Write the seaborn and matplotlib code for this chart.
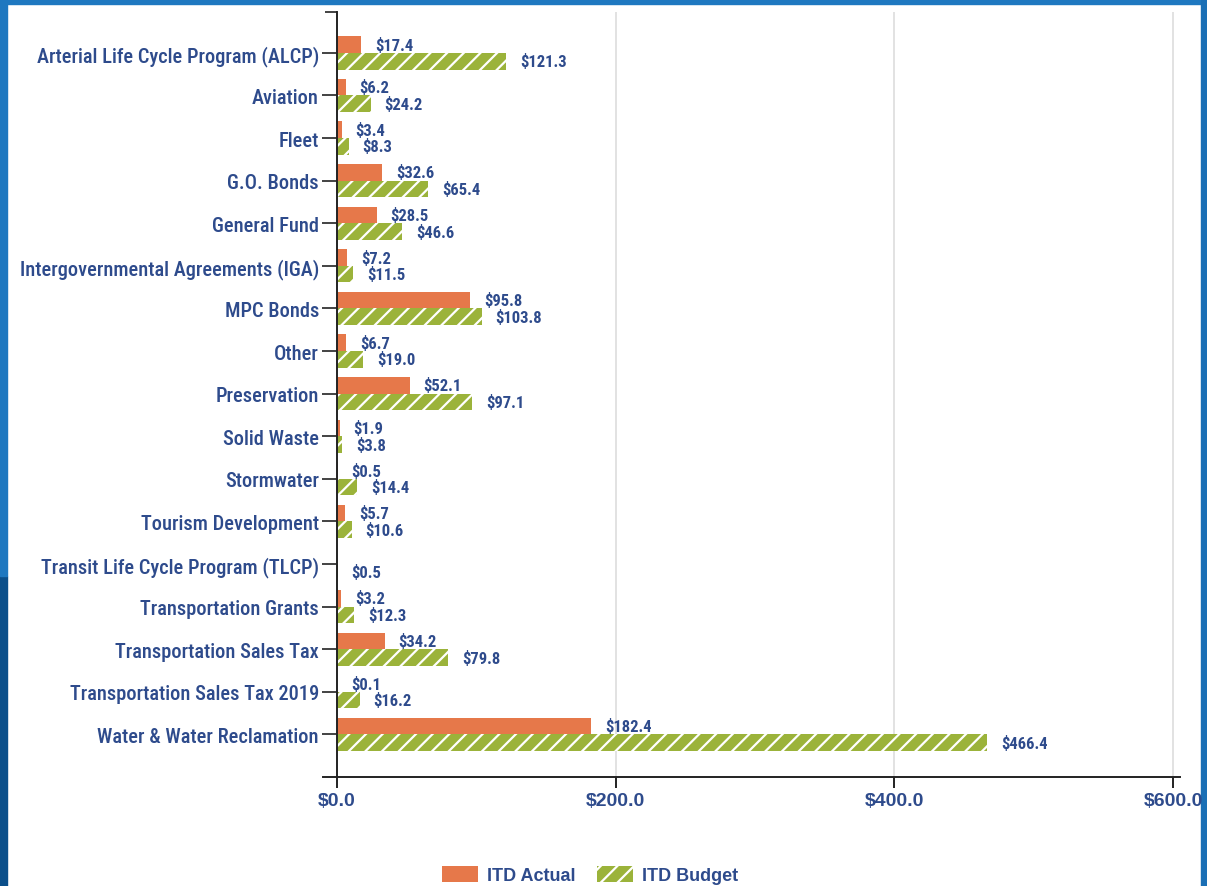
import matplotlib
matplotlib.use("Agg")
import matplotlib.pyplot as plt
from matplotlib.patches import Patch, Rectangle
import seaborn as sns
import pandas as pd

categories = [
    "Arterial Life Cycle Program (ALCP)", "Aviation", "Fleet", "G.O. Bonds",
    "General Fund", "Intergovernmental Agreements (IGA)", "MPC Bonds", "Other",
    "Preservation", "Solid Waste", "Stormwater", "Tourism Development",
    "Transit Life Cycle Program (TLCP)", "Transportation Grants",
    "Transportation Sales Tax", "Transportation Sales Tax 2019",
    "Water & Water Reclamation",
]
itd_actual = [17.4, 6.2, 3.4, 32.6, 28.5, 7.2, 95.8, 6.7, 52.1, 1.9, 0.5, 5.7, 0.0, 3.2, 34.2, 0.1, 182.4]
itd_budget = [121.3, 24.2, 8.3, 65.4, 46.6, 11.5, 103.8, 19.0, 97.1, 3.8, 14.4, 10.6, 0.5, 12.3, 79.8, 16.2, 466.4]
series_names = ["ITD Actual", "ITD Budget"]
x_ticks = [0, 200, 400, 600]

ORANGE = "#E6784A"
GREEN = "#9BB33A"
TEXT = "#2E4B8C"
NARROW = ["Roboto Condensed", "DejaVu Sans"]
WIDE = ["Liberation Sans", "DejaVu Sans"]

sns.set_theme(style="white")
plt.rcParams["hatch.linewidth"] = 1.6

df = pd.DataFrame({
    "category": categories * 2,
    "value": itd_actual + itd_budget,
    "series": [series_names[0]] * len(categories) + [series_names[1]] * len(categories),
})

fig = plt.figure(figsize=(12.07, 8.87), dpi=100)
fig.patch.set_facecolor("white")
ax = fig.add_axes([323 / 1207, 1 - 778 / 887, (1180 - 323) / 1207, (778 - 13) / 887])

sns.barplot(data=df, y="category", x="value", hue="series", order=categories,
            hue_order=series_names, palette=[ORANGE, GREEN], orient="h",
            width=0.78, errorbar=None, saturation=1, ax=ax, legend=False)

actual_bars, budget_bars = ax.containers[0], ax.containers[1]
for b in actual_bars:
    b.set_linewidth(0)
for b in budget_bars:
    b.set_hatch("//")
    b.set_edgecolor("white")
    b.set_linewidth(0)

lab_kw = dict(padding=10, fontsize=12, fontweight="bold", color=TEXT, family=NARROW)
ax.bar_label(actual_bars, labels=[f"${v:.1f}" if v > 0 else "" for v in itd_actual], **lab_kw)
ax.bar_label(budget_bars, labels=[f"${v:.1f}" if v > 0 else "" for v in itd_budget], **lab_kw)

for s in ["top", "right"]:
    ax.spines[s].set_visible(False)
ax.spines["left"].set_position(("data", 0))
ax.spines["left"].set_color("#222222")
ax.spines["bottom"].set_color("#222222")
ax.spines["left"].set_linewidth(1.4)
ax.spines["bottom"].set_linewidth(1.4)

ax.set_xlim(-10, 605)
ax.set_ylim(17.0, -0.96)
ax.set_xticks(x_ticks)
ax.set_xticklabels([f"${v:.1f}" for v in x_ticks], fontsize=14, fontweight="bold",
                   color=TEXT, family=WIDE)
ax.set_yticks(range(len(categories)))
ax.set_yticklabels(categories, fontsize=14.7, color=TEXT, family=NARROW, fontweight="medium")
ax.set_yticks([-0.96], minor=True)
ax.set_xlabel("")
ax.set_ylabel("")

for v in x_ticks[1:]:
    ax.axvline(v, color="#DDDDDD", lw=1.2, zorder=0)

ax.tick_params(axis="y", which="major", direction="out", length=11, width=1.2, color="#222222", pad=2, left=True)
ax.tick_params(axis="y", which="minor", direction="out", length=9, width=1.2, color="#222222", left=True)
ax.tick_params(axis="x", direction="out", length=8, width=1.4, color="#222222", pad=3, bottom=True)
ax.set_facecolor("none")

handles = [Patch(facecolor=ORANGE, linewidth=0),
           Patch(facecolor=GREEN, hatch="//", edgecolor="white", linewidth=0)]
fig.legend(handles, series_names, loc="center", bbox_to_anchor=(0.489, 0.0124),
           ncol=2, frameon=False, handlelength=2.0, handleheight=1.05,
           handletextpad=0.5, columnspacing=1.2,
           prop={"family": WIDE, "weight": "bold", "size": 13}, labelcolor=TEXT)

# blue frame
W, H = 1207, 887
fig.patches.append(Rectangle((0, 1 - 5 / H), 1, 5 / H, transform=fig.transFigure, color="#1E78C0", zorder=-1))
fig.patches.append(Rectangle((0, 0), 7 / W, 0.35, transform=fig.transFigure, color="#0B4F8A", zorder=-1))
fig.patches.append(Rectangle((0, 0.35), 7 / W, 0.65, transform=fig.transFigure, color="#1E78C0", zorder=-1))
fig.patches.append(Rectangle((1 - 6 / W, 0), 6 / W, 1, transform=fig.transFigure, color="#1A6FB5", zorder=-1))

fig.savefig("out.png", dpi=100)
